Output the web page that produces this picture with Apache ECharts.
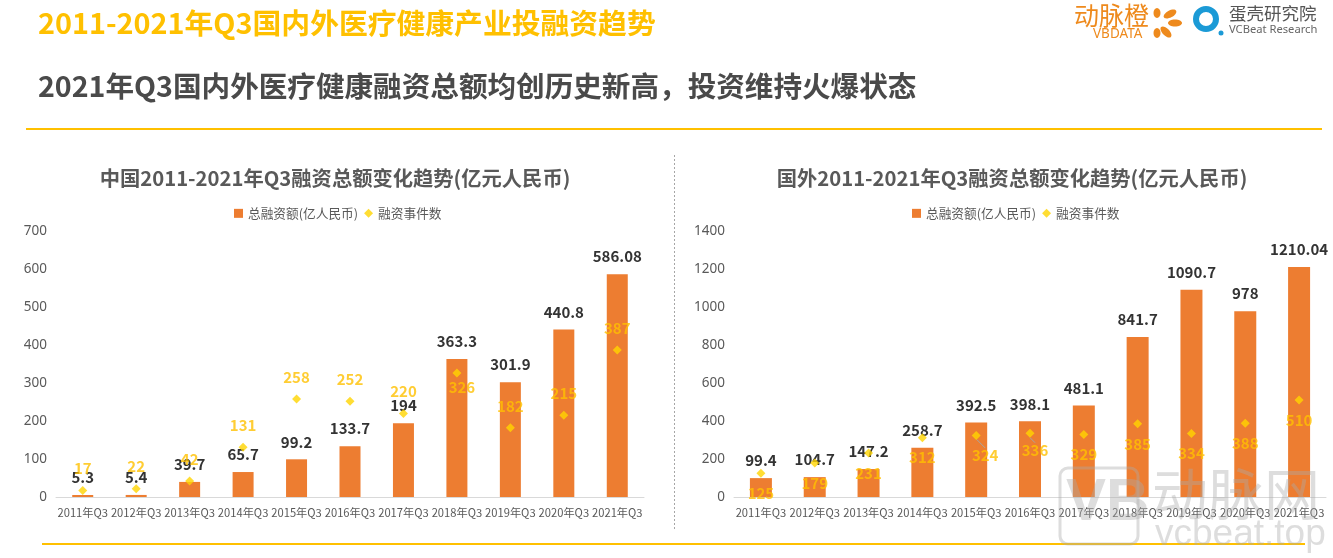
<!DOCTYPE html>
<html>
<head>
<meta charset="utf-8">
<style>
  html, body { margin: 0; padding: 0; background: #fff; }
  #chart { width: 1333px; height: 558px; }
</style>
<script src="https://cdn.jsdelivr.net/npm/echarts@6/dist/echarts.min.js"></script>
</head>
<body>
<div id="chart"></div>
<script>
const categories = ['2011年Q3', '2012年Q3', '2013年Q3', '2014年Q3', '2015年Q3', '2016年Q3', '2017年Q3', '2018年Q3', '2019年Q3', '2020年Q3', '2021年Q3'];
const chinaAmount = [5.3, 5.4, 39.7, 65.7, 99.2, 133.7, 194, 363.3, 301.9, 440.8, 586.08];
const chinaEvents = [17, 22, 42, 131, 258, 252, 220, 326, 182, 215, 387];
const abroadAmount = [99.4, 104.7, 147.2, 258.7, 392.5, 398.1, 481.1, 841.7, 1090.7, 978, 1210.04];
const abroadEvents = [125, 179, 231, 312, 324, 336, 329, 385, 334, 388, 510];

const FONT = '"Noto Sans CJK SC", "Noto Sans", sans-serif';
const ORANGE = '#ed7d31';
const YELLOW = '#ffd500';
const LABEL_YELLOW = '#ffc000';
const GREY = '#595959';
const barName = '总融资额(亿人民币)';
const dotName = '融资事件数';

function barSeries(i, values, width) {
  return {
    name: barName, type: 'bar', xAxisIndex: i, yAxisIndex: i, data: values, barWidth: width,
    itemStyle: { color: ORANGE },
    label: { show: true, position: 'top', distance: 10, color: '#333', fontSize: 15, fontWeight: 'bold', fontFamily: FONT }
  };
}

function legend(left) {
  return {
    left: left, top: 202, itemWidth: 9, itemHeight: 9, itemGap: 6,
    textStyle: { color: GREY, fontSize: 12.7, fontFamily: FONT },
    data: [{ name: barName, icon: 'rect' }, { name: dotName, icon: 'diamond' }]
  };
}

function xAxis(i) {
  return {
    type: 'category', gridIndex: i, data: categories,
    axisTick: { show: false },
    axisLine: { lineStyle: { color: '#d9d9d9' } },
    axisLabel: { interval: 0, color: GREY, fontSize: 11.2, margin: 10, fontFamily: FONT }
  };
}

function yAxis(i, max, step) {
  return {
    type: 'value', gridIndex: i, min: 0, max: max, interval: step,
    splitLine: { show: false },
    axisLabel: { color: GREY, fontSize: 13.5, margin: 9, fontFamily: '"Noto Sans", sans-serif', formatter: v => String(v) }
  };
}

const option = {
  animation: false,
  backgroundColor: '#fff',
  title: [
    { text: '中国2011-2021年Q3融资总额变化趋势(亿元人民币)', left: 330, top: 163, textAlign: 'center', textStyle: { color: GREY, fontSize: 20.3, fontWeight: 'bold', fontFamily: FONT } },
    { text: '国外2011-2021年Q3融资总额变化趋势(亿元人民币)', left: 1007, top: 163, textAlign: 'center', textStyle: { color: GREY, fontSize: 20.3, fontWeight: 'bold', fontFamily: FONT } }
  ],
  legend: [legend(229), legend(907)],
  grid: [
    { left: 56, right: 689, top: 231, bottom: 61 },
    { left: 734, right: 7, top: 231, bottom: 61 }
  ],
  xAxis: [xAxis(0), xAxis(1)],
  yAxis: [yAxis(0, 700, 100), yAxis(1, 1400, 200)],
  series: [
    barSeries(0, chinaAmount, 21),
    {
      name: dotName, type: 'scatter', xAxisIndex: 0, yAxisIndex: 0, symbol: 'diamond', symbolSize: 9,
      itemStyle: { color: YELLOW }, z: 5,
      // 326 sits under its marker in the reference, everything else above
      data: chinaEvents.map(v => v === 326
        ? { value: v, label: { position: 'bottom', distance: 2, offset: [5, 0] } }
        : v),
      label: { show: true, position: 'top', distance: 10, color: LABEL_YELLOW, fontSize: 15, fontWeight: 'bold', fontFamily: FONT }
    },
    barSeries(1, abroadAmount, 22),
    {
      name: dotName, type: 'scatter', xAxisIndex: 1, yAxisIndex: 1, symbol: 'diamond', symbolSize: 9,
      itemStyle: { color: YELLOW }, z: 5,
      // only 324 and 336 were dragged off their markers, so only they keep a leader line
      data: abroadEvents.map(v => (v === 324 || v === 336) ? v : { value: v, labelLine: { show: false } }),
      label: { show: true, position: 'bottom', distance: 8, color: LABEL_YELLOW, fontSize: 15, fontWeight: 'bold', fontFamily: FONT },
      labelLine: { show: true, lineStyle: { color: '#a6a6a6', width: 1 } },
      labelLayout: p => {
        if (p.dataIndex === 4) return { dx: 9 };
        if (p.dataIndex === 5) return { dx: 5, dy: -3 };
        return {};
      }
    }
  ],
  graphic: [
    { type: 'text', left: 38, top: 9, style: { text: '2011-2021年Q3国内外医疗健康产业投融资趋势', fill: '#ffc000', font: 'bold 28.8px ' + FONT } },
    { type: 'text', left: 38, top: 72, style: { text: '2021年Q3国内外医疗健康融资总额均创历史新高，投资维持火爆状态', fill: '#4a4a4a', font: 'bold 28.6px ' + FONT } },
    { type: 'line', shape: { x1: 26, y1: 129, x2: 1322, y2: 129 }, style: { stroke: '#ffc000', lineWidth: 2 } },
    { type: 'line', shape: { x1: 42, y1: 544, x2: 1305, y2: 544 }, style: { stroke: '#ffc000', lineWidth: 2 } },
    { type: 'line', shape: { x1: 674.5, y1: 155, x2: 674.5, y2: 530 }, style: { stroke: '#a6a6a6', lineWidth: 1, lineDash: [2, 2] } },

    // logos
    { type: 'text', left: 1074, top: 3, style: { text: '动脉橙', fill: '#ee8a1d', font: '25px ' + FONT } },
    { type: 'text', left: 1093, top: 27, style: { text: 'VBDATA', fill: '#ee8a1d', font: '13.5px "Noto Sans", sans-serif' } },
    { type: 'ellipse', shape: { cx: 1157, cy: 13, rx: 3.5, ry: 5 }, style: { fill: '#ee8a1d' } },
    { type: 'ellipse', shape: { cx: 0, cy: 0, rx: 7, ry: 3.5 }, x: 1170, y: 14, rotation: 0.5, style: { fill: '#ee8a1d' } },
    { type: 'ellipse', shape: { cx: 1175, cy: 23, rx: 7, ry: 3.5 }, style: { fill: '#ee8a1d' } },
    { type: 'ellipse', shape: { cx: 0, cy: 0, rx: 7, ry: 3.5 }, x: 1166, y: 32, rotation: -0.8, style: { fill: '#ee8a1d' } },
    { type: 'ellipse', shape: { cx: 1157, cy: 33, rx: 3.5, ry: 5 }, style: { fill: '#ee8a1d' } },
    { type: 'circle', shape: { cx: 1206, cy: 19, r: 10 }, style: { fill: 'none', stroke: '#1b9ad6', lineWidth: 6 } },
    { type: 'circle', shape: { cx: 1221, cy: 33, r: 2.5 }, style: { fill: '#1b9ad6' } },
    { type: 'text', left: 1229, top: 5, style: { text: '蛋壳研究院', fill: '#555', font: '17.5px ' + FONT } },
    { type: 'text', left: 1229, top: 24, style: { text: 'VCBeat Research', fill: '#666', font: '11.2px "Noto Sans", sans-serif' } },

    // watermark
    { type: 'rect', shape: { x: 1060, y: 468, width: 78, height: 76, r: 8 }, style: { fill: 'none', stroke: 'rgba(170,170,170,0.4)', lineWidth: 3 }, z: 100 },
    { type: 'text', left: 1066, top: 473, z: 100, style: { text: 'VB', fill: 'rgba(170,170,170,0.4)', font: 'bold 60px "Liberation Sans", sans-serif' } },
    { type: 'text', left: 1152, top: 466, z: 100, style: { text: '动脉网', fill: 'rgba(170,170,170,0.4)', font: '56px ' + FONT } },
    { type: 'text', left: 1155, top: 516, z: 100, style: { text: 'vcbeat.top', fill: 'rgba(170,170,170,0.4)', font: '37px "Liberation Sans", sans-serif' } }
  ]
};

echarts.init(document.getElementById('chart')).setOption(option);
</script>
</body>
</html>
